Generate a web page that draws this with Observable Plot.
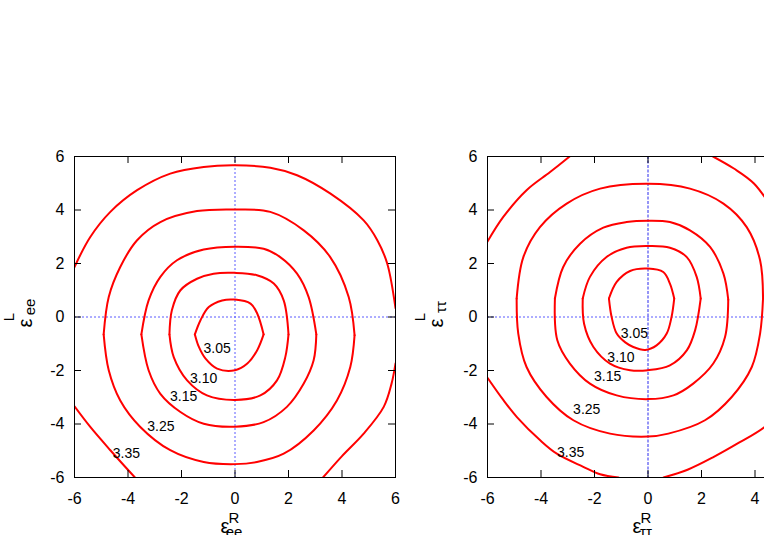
<!DOCTYPE html>
<html>
<head>
<meta charset="utf-8">
<script src="https://cdn.jsdelivr.net/npm/d3@7"></script>
<script src="https://cdn.jsdelivr.net/npm/@observablehq/plot@0.6"></script>
<style>
  html, body { margin: 0; padding: 0; background: white; overflow: hidden; }
  #wrap { position: relative; width: 764px; height: 535px; overflow: hidden; background: white; }
  #wrap svg { position: absolute; top: 0; max-width: none !important; }
</style>
</head>
<body>
<div id="wrap"></div>
<script>
// ---- tick values ----
const xTicks = [-6, -4, -2, 0, 2, 4, 6];
const yTicks = [-6, -4, -2, 0, 2, 4, 6];
const xTicksRightLabels = [-6, -4, -2, 0, 2, 4];

// ---- left panel (ee) contour polylines, [eR, eL] ----
const ee305 = [[-1.50,-0.65],[-1.29,-0.12],[-0.98,0.37],[-0.48,0.62],[0.0,0.65],[0.58,0.5],[0.83,0.13],[1.07,-0.65],[0.83,-1.24],[0.46,-1.74],[0.0,-1.99],[-0.67,-1.93],[-1.10,-1.56],[-1.35,-1.12],[-1.50,-0.65]];
const ee310 = [[-2.45,-0.65],[-2.36,0.25],[-2.04,1.0],[-1.42,1.43],[-0.8,1.62],[0,1.65],[0.82,1.56],[1.45,1.25],[1.82,0.62],[2.0,-0.65],[1.88,-1.5],[1.57,-2.37],[0.95,-2.93],[0,-3.1],[-1.05,-2.93],[-1.79,-2.37],[-2.29,-1.5],[-2.45,-0.65]];
const ee315 = [[-3.5,-0.65],[-3.23,0.62],[-2.79,1.5],[-2.17,2.12],[-1.17,2.52],[0,2.63],[1.07,2.55],[1.69,2.24],[2.32,1.62],[2.75,0.75],[3.04,-0.65],[2.94,-1.62],[2.57,-2.49],[1.94,-3.36],[1.07,-3.93],[0,-4.1],[-1.17,-3.99],[-2.04,-3.55],[-2.79,-2.87],[-3.23,-1.99],[-3.5,-0.65]];
const ee325 = [[-4.91,-0.65],[-4.72,0.75],[-4.29,1.87],[-3.66,2.87],[-2.79,3.55],[-1.42,3.96],[0,4.02],[1.32,3.93],[2.57,3.24],[3.56,2.24],[4.25,0.75],[4.47,-0.68],[4.31,-1.87],[3.81,-3.12],[2.94,-4.24],[1.82,-5.11],[0.82,-5.42],[0,-5.5],[-1.17,-5.42],[-2.42,-4.98],[-3.54,-4.11],[-4.29,-3.12],[-4.72,-1.99],[-4.91,-0.65]];
const ee335a = [[-6,1.87],[-5.41,2.99],[-4.66,3.93],[-3.66,4.74],[-2.42,5.36],[-1.17,5.61],[0,5.67],[1.32,5.58],[2.32,5.3],[3.57,4.61],[4.81,3.61],[5.32,2.87],[5.69,2.0],[6,0.33]];
const ee335b = [[-6,-3.34],[-5.41,-4.11],[-4.66,-4.98],[-3.74,-6]];
const ee335c = [[3.29,-6],[4.0,-5.2],[4.81,-4.36],[5.56,-3.36],[5.85,-2.5],[6,-1.74]];

// ---- right panel (tautau) contour polylines ----
const tt305 = [[-1.46,0.69],[-1.17,1.31],[-0.67,1.72],[0,1.81],[0.57,1.68],[0.82,1.25],[0.98,0.69],[0.88,0],[0.7,-0.62],[0.32,-1.06],[-0.1,-1.23],[-0.55,-1.12],[-0.85,-0.95],[-1.17,-0.62],[-1.36,0],[-1.46,0.69]];
const tt310 = [[-2.44,0.69],[-2.17,1.5],[-1.55,2.24],[-0.8,2.59],[0,2.65],[0.82,2.59],[1.45,2.24],[1.82,1.5],[1.97,0.69],[1.76,-0.5],[1.45,-1.25],[0.82,-1.81],[0,-1.99],[-0.67,-1.99],[-1.42,-1.74],[-2.04,-1.12],[-2.39,-0.25],[-2.44,0.69]];
const tt315 = [[-3.48,0.69],[-3.17,1.87],[-2.54,2.74],[-1.67,3.34],[-0.8,3.55],[0,3.6],[0.82,3.55],[1.57,3.24],[2.32,2.62],[2.82,1.62],[3.0,0.65],[2.88,-0.75],[2.44,-1.74],[1.69,-2.49],[0.95,-2.93],[0,-3.07],[-1.17,-2.93],[-2.17,-2.49],[-2.92,-1.74],[-3.39,-0.87],[-3.48,0.69]];
const tt325 = [[-4.91,0.69],[-4.66,2.24],[-4.04,3.36],[-3.04,4.24],[-1.79,4.8],[0,4.98],[1.57,4.8],[2.82,4.24],[3.69,3.36],[4.19,2.12],[4.3,0.69],[4.19,-0.62],[3.88,-1.87],[3.13,-2.99],[2.13,-3.86],[0.76,-4.36],[0,-4.47],[-1.42,-4.36],[-2.79,-3.86],[-3.79,-2.99],[-4.54,-1.87],[-4.85,-0.62],[-4.91,0.69]];
const tt335a = [[-6,2.82],[-5.41,3.74],[-4.54,4.74],[-3.66,5.42],[-2.93,6]];
const tt335b = [[2.43,6],[3.21,5.55],[3.96,4.99],[4.75,3.9],[5.34,2.87],[5.8,1.5],[6,0.7]];
const tt335c = [[-6,-2.27],[-5.41,-3.1],[-4.9,-3.74],[-4.03,-4.61],[-3.41,-5.11],[-2.42,-5.6],[-1.79,-5.88],[-1.1,-6]];
const tt335d = [[0.58,-6],[1.5,-5.7],[2.46,-5.23],[3.4,-4.7],[4.36,-4.11],[5.2,-3.3],[6,-2.3]];

// ---- contour labels ----
const levels = ["3.05", "3.10", "3.15", "3.25", "3.35"];
const eeLabelX = [-0.67, -1.17, -1.92, -2.77, -4.06];
const eeLabelY = [-1.16, -2.31, -2.99, -4.09, -5.11];
const ttLabelX = [-0.51, -1.01, -1.51, -2.29, -2.89];
const ttLabelY = [-0.60, -1.50, -2.22, -3.46, -5.08];

const eeParts = [[ee305], [ee310], [ee315], [ee325], [ee335a, ee335b, ee335c]];
const ttParts = [[tt305], [tt310], [tt315], [tt325], [tt335a, tt335b, tt335c, tt335d]];

// closed contours are split at their left/right corners so those stay sharp
function splitClosed(pts) {
  const closed = pts.length > 3 && pts[0][0] === pts[pts.length - 1][0] && pts[0][1] === pts[pts.length - 1][1];
  if (!closed) return [pts];
  let iMax = 0;
  pts.forEach((p, i) => { if (p[0] > pts[iMax][0]) iMax = i; });
  return [pts.slice(0, iMax + 1), pts.slice(iMax)];
}
function rowsOf(parts) {
  const rows = [];
  parts.forEach((lvParts, li) => lvParts.forEach((pts, pi) =>
    splitClosed(pts).forEach((seg, si) =>
      seg.forEach(p => rows.push({x: p[0], y: p[1], id: levels[li] + "-" + pi + "-" + si})))));
  return rows;
}
function labelRows(xs, ys) {
  return levels.map((t, i) => ({x: xs[i], y: ys[i], t}));
}

const H = 535, MT = 156, MB = 58, INNER = 321, TL = 7;
const FONT = "'Liberation Sans', Arial, Helvetica, sans-serif";

function panel({parts, labels, width, marginLeft, marginRight, vDash, vColor, xLabelTicks}) {
  return Plot.plot({
    width, height: H, marginLeft, marginRight, marginTop: MT, marginBottom: MB,
    style: {fontFamily: FONT, fontSize: "16px", background: "white", color: "black"},
    x: {domain: [-6, 6], ticks: xLabelTicks, tickSize: 0, tickPadding: 15, tickFormat: d => String(d), label: null},
    y: {domain: [-6, 6], ticks: yTicks, tickSize: 0, tickPadding: 10, tickFormat: d => String(d), label: null},
    marks: [
      Plot.ruleY([0], {stroke: "#5a5aff", strokeDasharray: "2,2", strokeWidth: 1}),
      Plot.ruleX([0], {stroke: vColor, strokeDasharray: vDash, strokeWidth: 1}),
      Plot.line(rowsOf(parts), {x: "x", y: "y", z: "id", stroke: "#ff0000", strokeWidth: 2, curve: "catmull-rom", strokeLinecap: "round", strokeLinejoin: "round", clip: true}),
      Plot.text(labels, {x: "x", y: "y", text: "t", fontSize: 14, fill: "black"}),
      Plot.tickX(xTicks, {x: d => d, insetTop: INNER - TL, stroke: "black"}),
      Plot.tickX(xTicks, {x: d => d, insetBottom: INNER - TL, stroke: "black"}),
      Plot.tickY(yTicks, {y: d => d, insetRight: (width - marginLeft - marginRight) - TL, stroke: "black"}),
      Plot.tickY(yTicks, {y: d => d, insetLeft: (width - marginLeft - marginRight) - TL, stroke: "black"}),
      Plot.frame({stroke: "black", strokeWidth: 1})
    ]
  });
}

function addLabels(svg, xl, sub, sup, yl) {
  const s = d3.select(svg);
  const g = s.append("g").attr("font-family", FONT).attr("fill", "black");
  // x-axis label: epsilon with stacked super/subscripts
  g.append("text").attr("x", xl).attr("y", 533).attr("font-size", 20).text("ε");
  g.append("text").attr("x", xl + 9).attr("y", 523).attr("font-size", 15).text("R");
  g.append("text").attr("x", xl + 9).attr("y", 537).attr("font-size", 15).text(sub);
  // y-axis label (rotated)
  const r = g.append("g").attr("transform", `translate(${yl},${323}) rotate(-90)`);
  r.append("text").attr("x", 0).attr("y", 0).attr("font-size", 20).text("ε");
  r.append("text").attr("x", 16).attr("y", 3).attr("font-size", 15).text(sub);
  r.append("text").attr("x", 6).attr("y", -18).attr("font-size", 15).text(sup);
}

const wrap = document.getElementById("wrap");

const left = panel({
  parts: eeParts, labels: labelRows(eeLabelX, eeLabelY),
  width: 400, marginLeft: 74, marginRight: 5, vDash: "2,2", vColor: "#5a5aff", xLabelTicks: xTicks
});
left.style.left = "0px";
addLabels(left, 225, "ee", "L", 32);
wrap.appendChild(left);

const right = panel({
  parts: ttParts, labels: labelRows(ttLabelX, ttLabelY),
  width: 428, marginLeft: 87, marginRight: 20, vDash: "3,1.5", vColor: "#2a2aee", xLabelTicks: xTicksRightLabels
});
right.style.left = "400px";
addLabels(right, 237, "ττ", "L", 43);
wrap.appendChild(right);
</script>
</body>
</html>
